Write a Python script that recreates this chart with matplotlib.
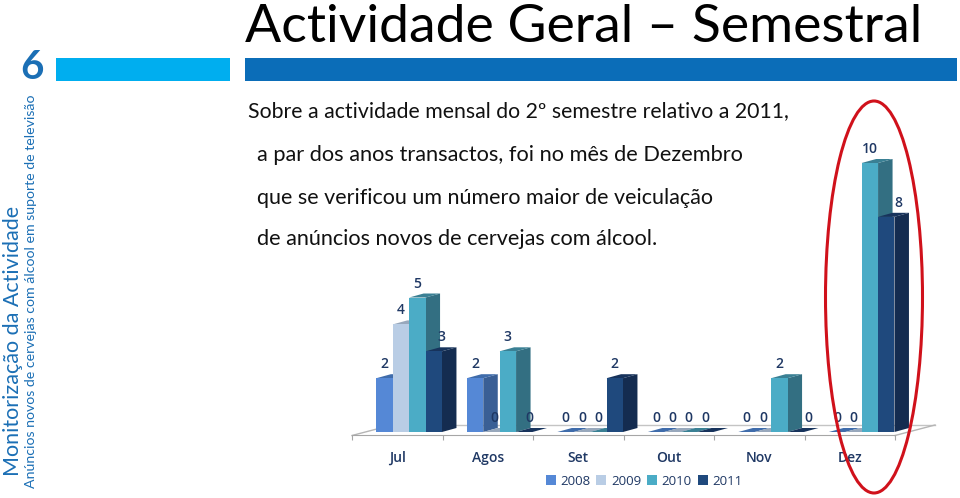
import matplotlib
matplotlib.use("Agg")
import matplotlib.pyplot as plt
from matplotlib.patches import Polygon, Rectangle, Ellipse

months = ["Jul", "Agos", "Set", "Out", "Nov", "Dez"]
years = ["2008", "2009", "2010", "2011"]
v2008 = [2, 2, 0, 0, 0, 0]
v2009 = [4, 0, 0, 0, 0, 0]
v2010 = [5, 3, 0, 0, 2, 10]
v2011 = [3, 0, 2, 0, 0, 8]
series = [v2008, v2009, v2010, v2011]

front = ["#5588d6", "#b9cde5", "#4bacc6", "#1f497d"]
side = ["#3a5f95", "#8c9cb0", "#336f82", "#142c50"]
top = ["#3f6cab", "#98a8bc", "#3a8094", "#17335c"]
NAVY = "#1f3864"
BLUE = "#1b6fb5"

W, H = 960, 498
fig = plt.figure(figsize=(W / 100, H / 100), dpi=100)
bg = fig.add_axes([0, 0, 1, 1])
bg.set_xlim(0, W)
bg.set_ylim(H, 0)
bg.axis("off")

# chart axes: x 352..895 px, y 432..163 px
ax = fig.add_axes([352 / W, (H - 432) / H, (895 - 352) / W, (432 - 163) / H])
ax.set_xlim(0, 6)
ax.set_ylim(0, 10)
ax.patch.set_alpha(0)
for s in ["top", "left", "right"]:
    ax.spines[s].set_visible(False)
ax.spines["bottom"].set_position(("outward", 2.5))
ax.spines["bottom"].set_color("#a6a6a6")
ax.set_yticks([])
ax.set_xticks(range(7))
ax.set_xticklabels([])
ax.set_xticks([i + 0.5 for i in range(6)], months, minor=True)
ax.tick_params(axis="x", which="major", length=3.5, color="#a6a6a6", direction="out")
ax.tick_params(axis="x", which="minor", length=0, pad=11, labelsize=10, labelcolor=NAVY)
for t in ax.get_xticklabels(minor=True):
    t.set_fontfamily("Open Sans")
    t.set_fontweight("semibold")

bw = 16.4 / 90.5
start = 1 - 4 * bw
dx = 14.5 / 90.5
dy = 4 / 26.9
floor_dx, floor_dy = 40 / 90.5, 10.5 / 26.9
base = -3.5 / 26.9
ax.plot([0, floor_dx], [base, base + floor_dy], color="#b5b5b5", lw=1, clip_on=False, zorder=1)
ax.plot([floor_dx, 6 + floor_dx], [base + floor_dy] * 2, color="#c4c4c4", lw=1, clip_on=False, zorder=1)
ax.plot([6, 6 + floor_dx], [base, base + floor_dy], color="#b5b5b5", lw=1, clip_on=False, zorder=1)

label_shift = {(0, 3): 8, (1, 1): 3, (1, 3): 5, (4, 3): 13, (5, 3): 12}

for i, vals in enumerate(series):
    xs = [g + start + (i + 0.5) * bw - 0.006 for g in range(6)]
    ax.bar(xs, vals, width=bw, color=front[i], label=years[i], zorder=3 + 0.1 * i,
           linewidth=0, clip_on=False)
    for g, v in enumerate(vals):
        l = xs[g] - bw / 2
        r = xs[g] + bw / 2
        ax.add_patch(Polygon([(r, 0), (r + dx, dy), (r + dx, v + dy), (r, v)],
                             fc=side[i], ec="none", zorder=2.5 + 0.1 * i, clip_on=False))
        ax.add_patch(Polygon([(l, v), (l + dx, v + dy), (r + dx, v + dy), (r, v)],
                             fc=top[i], ec="none", zorder=2.5 + 0.1 * i, clip_on=False))
        ax.annotate(str(v), (xs[g], v), xytext=(label_shift.get((g, i), 0) * 0.72, 14 * 0.72),
                    textcoords="offset points", ha="center", va="center", fontsize=10,
                    fontweight="semibold", fontfamily="Open Sans", color=NAVY, zorder=6,
                    annotation_clip=False)

h, lab = ax.get_legend_handles_labels()
fig.legend(h, lab, ncol=4, loc="center", bbox_to_anchor=(644 / W, (H - 481) / H),
           frameon=False, handlelength=0.75, handleheight=0.75,
           handletextpad=0.35, columnspacing=0.45, labelcolor=NAVY,
           prop={"family": "Open Sans", "size": 9.5})

# slide furniture
bg.add_patch(Rectangle((56, 58), 174, 23, fc="#00aeef", ec="none"))
bg.add_patch(Rectangle((245, 58), 712, 23, fc="#0b6db8", ec="none"))
bg.text(245, 42, "Actividade Geral – Semestral", fontsize=38.5, family="Lato", va="baseline", ha="left", color="black")
bg.text(32, 67, "6", fontsize=29, family="Lato", fontweight="bold", va="center", ha="center", color=BLUE)
bg.text(13, 476, "Monitorização da Actividade", fontsize=15.5, family="Lato", rotation=90,
        va="bottom", ha="center", color=BLUE)
bg.text(31, 488, "Anúncios novos de cervejas com álcool em suporte de televisão", fontsize=10.2,
        family="Lato", rotation=90, va="bottom", ha="center", color=BLUE)
body = [(248, 111, "Sobre a actividade mensal do 2º semestre relativo a 2011,", 15.3),
        (257, 155, "a par dos anos transactos, foi no mês de Dezembro", 15.7),
        (257, 198, "que se verificou um número maior de veiculação", 15.5),
        (257, 239, "de anúncios novos de cervejas com álcool.", 15.6)]
for x, y, s, fs in body:
    bg.text(x, y, s, fontsize=fs, family="Lato", va="center", ha="left", color="#111111")

fig.add_artist(Ellipse((874 / W, (H - 297) / H), 97 / W, 392 / H, fc="none", ec="#d0111b", lw=2.2,
                       transform=fig.transFigure, zorder=10, clip_on=True))
fig.savefig("out.png", dpi=100)
